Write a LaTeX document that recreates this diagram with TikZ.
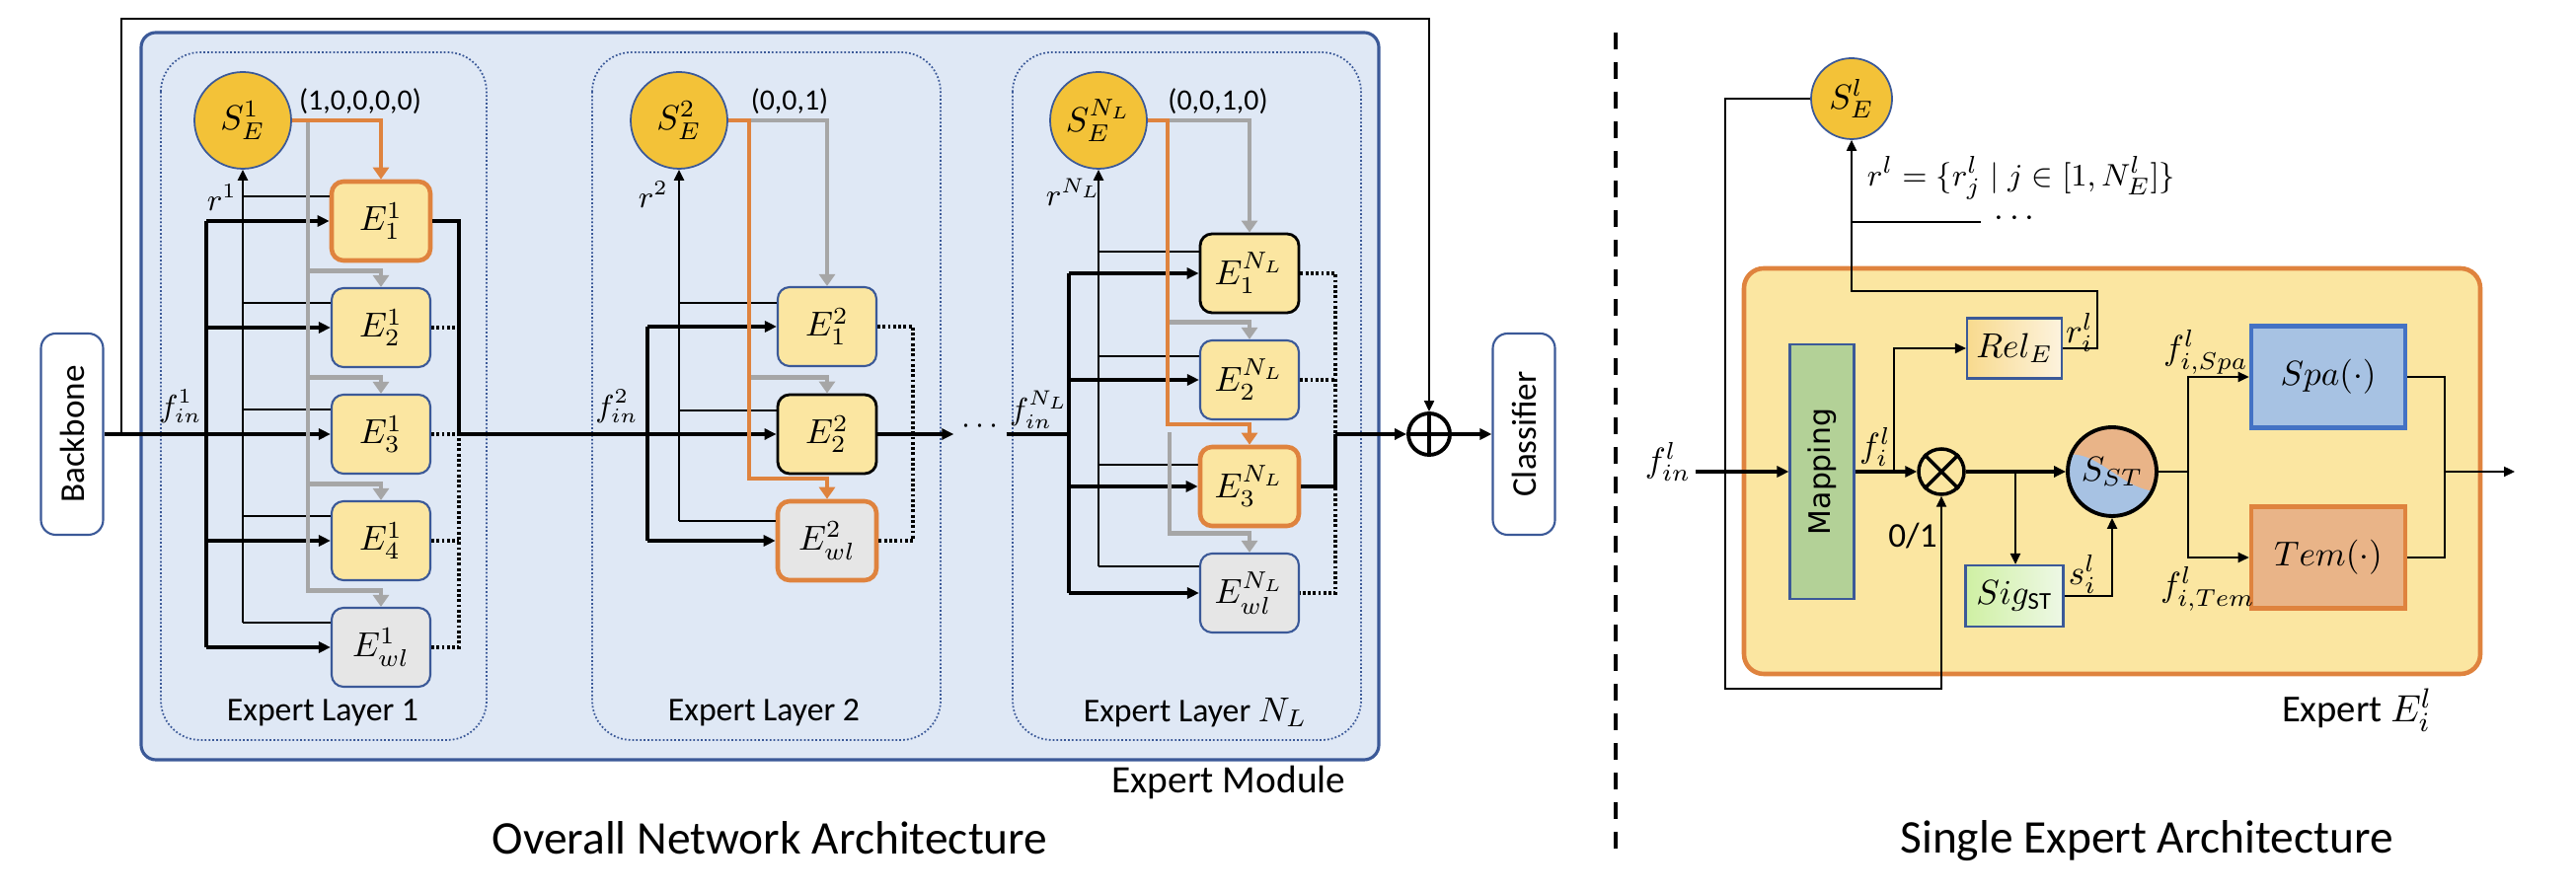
\documentclass[tikz,border=0pt]{standalone}
\usepackage{graphicx}
\usepackage{fontspec}
\setmainfont{Carlito}
\newfontfamily\mapfont{DejaVu Sans}
\usetikzlibrary{arrows.meta,positioning}

\definecolor{modfill}{RGB}{223,232,245}
\definecolor{modline}{RGB}{59,89,152}
\definecolor{gold}{RGB}{243,194,56}
\definecolor{expfill}{RGB}{251,230,161}
\definecolor{wlfill}{RGB}{230,230,230}
\definecolor{selorange}{RGB}{223,131,62}
\definecolor{routegray}{RGB}{166,166,166}
\definecolor{mapgreen}{RGB}{179,209,151}
\definecolor{spablue}{RGB}{167,194,227}
\definecolor{spaline}{RGB}{68,114,196}
\definecolor{temfill}{RGB}{233,180,136}
\definecolor{relL}{RGB}{248,218,142}
\definecolor{relR}{RGB}{253,243,222}
\definecolor{sigL}{RGB}{207,240,163}
\definecolor{sigR}{RGB}{238,248,230}

\tikzset{
  expert/.style={draw=modline, fill=expfill, rounded corners=1.2mm, line width=0.6pt,
    minimum width=10mm, minimum height=8mm, inner sep=0pt, font=\fontsize{10}{12}\selectfont},
  chosen/.style={draw=selorange, line width=1.3pt},
  blackline/.style={draw=black, line width=0.8pt},
  wl/.style={fill=wlfill},
  gate/.style={circle, draw=modline, fill=gold, minimum size=9.8mm, inner sep=0pt, line width=0.5pt,
    font=\fontsize{10}{12}\selectfont},
  laybox/.style={draw=modline, line width=0.5pt, dash pattern=on 0.5pt off 0.6pt, rounded corners=4mm},
  laylbl/.style={font=\fontsize{9.6}{11}\selectfont},
  io/.style={draw=modline, fill=white, rounded corners=1.5mm, line width=0.6pt,
    minimum width=6.3mm, minimum height=20.4mm, inner sep=0pt, font=\fontsize{10}{12}\selectfont},
  vec/.style={font=\fontsize{8.5}{10}\selectfont, inner sep=0pt},
  trunk/.style={line width=0.9pt},
  feed/.style={line width=0.9pt, -{Triangle[length=1.2mm,width=1.1mm]}},
  rline/.style={line width=0.6pt},
  rel/.style={line width=0.6pt, -{Triangle[length=1.1mm,width=1mm]}},
  idle/.style={line width=0.9pt, dash pattern=on 0.8pt off 0.7pt},
  grayroute/.style={draw=routegray, line width=1.4pt, -{Triangle[length=1.2mm,width=1.6mm]}},
  pick/.style={draw=selorange, line width=1.2pt, -{Triangle[length=1.2mm,width=1.6mm]}},
  title/.style={font=\fontsize{13.5}{16}\selectfont},
}

\begin{document}
\begin{tikzpicture}[x=0.1mm, y=-0.1mm, font=\fontsize{9}{11}\selectfont]
\useasboundingbox (0,0) rectangle (2610,904);

% expert module and its layers
\draw[draw=modline, fill=modfill, line width=0.9pt, rounded corners=1.5mm] (143,33) rectangle (1397,770);
\node[font=\fontsize{11.2}{13}\selectfont] (modlbl) at (1245,793) {Expert Module};
\draw[laybox] (163,53) rectangle (493,750);
\draw[laybox] (600,53) rectangle (953,750);
\draw[laybox] (1026,53) rectangle (1379,750);
\node[laylbl] (lay1) at (327,722) {Expert Layer 1};
\node[laylbl] (lay2) at (774,722) {Expert Layer 2};
\node[laylbl] (layn) at (1211,722) {Expert Layer $N_L$};

\node[io] (backbone) at (73,440) {\rotatebox{90}{Backbone}};
\node[io] (cls) at (1544,440) {\rotatebox{90}{Classifier}};
\node[circle, draw, line width=1.1pt, minimum size=4.2mm, inner sep=0pt] (plus) at (1448,440) {};
\draw[line width=1.1pt] (plus.north) -- (plus.south) (plus.west) -- (plus.east);

% layer 1
\node[gate] (g1) at (246,122) {$S^{1}_{E}$};
\node[expert, chosen] (e11) at (386,224) {$E^{1}_{1}$};
\node[expert] (e12) at (386,332) {$E^{1}_{2}$};
\node[expert] (e13) at (386,440) {$E^{1}_{3}$};
\node[expert] (e14) at (386,548) {$E^{1}_{4}$};
\node[expert, wl] (e1w) at (386,656) {$E^{1}_{wl}$};
\coordinate (in1) at (209,440);
\coordinate (t1) at (312,122);
\coordinate (c1) at (465,440);

\draw[feed] (backbone.east) -- (e13.west);
\draw[trunk] (in1 |- e11.west) -- (in1 |- e1w.west);
\draw[feed] (in1 |- e11.west) -- (e11.west);
\draw[feed] (in1 |- e12.west) -- (e12.west);
\draw[feed] (in1 |- e14.west) -- (e14.west);
\draw[feed] (in1 |- e1w.west) -- (e1w.west);

\draw[rline] (e11.west) ++(0,-25) coordinate (r11) -- (r11 -| g1);
\draw[rline] (e12.west) ++(0,-25) coordinate (r12) -- (r12 -| g1);
\draw[rline] (e13.west) ++(0,-25) coordinate (r13) -- (r13 -| g1);
\draw[rline] (e14.west) ++(0,-25) coordinate (r14) -- (r14 -| g1);
\draw[rline] (e1w.west) ++(0,-25) coordinate (r1w) -- (r1w -| g1);
\draw[rel] (r1w -| g1) -- (g1.south);

\draw[grayroute] (t1) |- ([yshift=1.6mm]e12.north) -- (e12.north);
\draw[grayroute] (t1) |- ([yshift=1.6mm]e13.north) -- (e13.north);
\draw[grayroute] (t1) |- ([yshift=1.6mm]e14.north) -- (e14.north);
\draw[grayroute] (t1) |- ([yshift=1.6mm]e1w.north) -- (e1w.north);
\draw[pick] (g1.east) -| (e11.north);

\draw[idle] (e12.east) -- (e12.east -| c1);
\draw[idle] (e13.east) -- (c1);
\draw[idle] (e14.east) -- (e14.east -| c1);
\draw[idle] (e1w.east) -| (c1);
\draw[trunk] (e11.east) -| (c1);

% layer 2
\node[gate] (g2) at (688,122) {$S^{2}_{E}$};
\node[expert] (e21) at (838,331) {$E^{2}_{1}$};
\node[expert, blackline] (e22) at (838,440) {$E^{2}_{2}$};
\node[expert, wl, chosen] (e2w) at (838,548) {$E^{2}_{wl}$};
\coordinate (in2) at (656,440);
\coordinate (t2) at (759,122);
\coordinate (c2) at (925,440);

\draw[feed] (c1) -- (e22.west);
\draw[trunk] (in2 |- e21.west) -- (in2 |- e2w.west);
\draw[feed] (in2 |- e21.west) -- (e21.west);
\draw[feed] (in2 |- e2w.west) -- (e2w.west);

\draw[rline] (e21.west) ++(0,-24) coordinate (r21) -- (r21 -| g2);
\draw[rline] (e22.west) ++(0,-24) coordinate (r22) -- (r22 -| g2);
\draw[rline] (e2w.west) ++(0,-20) coordinate (r2w) -- (r2w -| g2);
\draw[rel] (r2w -| g2) -- (g2.south);

\draw[grayroute] (t2) -| (e21.north);
\draw[grayroute] (t2) |- ([yshift=1.6mm]e22.north) -- (e22.north);
\draw[pick] (g2.east) -- (t2) |- ([yshift=2.1mm]e2w.north) -- (e2w.north);

\draw[idle] (e21.east) -| (c2 |- e2w.east) -- (e2w.east);
\node[inner xsep=0.7mm, inner ysep=0pt] (more) at (993,432) {$\cdots$};
\draw[feed] (e22.east) -- (e22.east -| more.west);

% layer N_L
\node[gate] (gn) at (1113,122) {$S^{N_L}_{E}$};
\node[expert, blackline] (en1) at (1266,277) {$E^{N_L}_{1}$};
\node[expert] (en2) at (1266,385) {$E^{N_L}_{2}$};
\node[expert, chosen] (en3) at (1266,493) {$E^{N_L}_{3}$};
\node[expert, wl] (enw) at (1266,601) {$E^{N_L}_{wl}$};
\coordinate (inN) at (1083,440);
\coordinate (tn) at (1183,122);
\coordinate (tn2) at (1185,438);
\coordinate (cn) at (1353,440);

\draw[trunk] (e22.east -| more.east) -- (inN);
\draw[trunk] (inN |- en1.west) -- (inN |- enw.west);
\draw[feed] (inN |- en1.west) -- (en1.west);
\draw[feed] (inN |- en2.west) -- (en2.west);
\draw[feed] (inN |- en3.west) -- (en3.west);
\draw[feed] (inN |- enw.west) -- (enw.west);

\draw[rline] (en1.west) ++(0,-22) coordinate (rn1) -- (rn1 -| gn);
\draw[rline] (en2.west) ++(0,-24) coordinate (rn2) -- (rn2 -| gn);
\draw[rline] (en3.west) ++(0,-22) coordinate (rn3) -- (rn3 -| gn);
\draw[rline] (enw.west) ++(0,-27) coordinate (rnw) -- (rnw -| gn);
\draw[rel] (rnw -| gn) -- (gn.south);

\draw[grayroute] (tn) -| (en1.north);
\draw[grayroute] (tn) |- ([yshift=1.7mm]en2.north) -- (en2.north);
\draw[grayroute] (tn2) |- ([yshift=1.9mm]enw.north) -- (enw.north);
\draw[pick] (gn.east) -- (tn) |- ([yshift=2.1mm]en3.north) -- (en3.north);

\draw[idle] (en1.east) -| (cn |- enw.east) -- (enw.east);
\draw[idle] (en2.east) -- (en2.east -| cn);
\draw[trunk] (en3.east) -| (cn);
\draw[feed] (cn) -- (plus.west);
\draw[feed] (plus.east) -- (cls.west);
\coordinate (skip) at (123,19);
\draw[rel] (backbone.east -| skip) -- (skip) -| (plus.north);

% labels
\node[vec] (v1) at (365,103) {(1,0,0,0,0)};
\node[vec] (v2) at (800,103) {(0,0,1)};
\node[vec] (vn) at (1234,103) {(0,0,1,0)};
\node (r1lbl) at (225,200) {$r^{1}$};
\node (r2lbl) at (662,197) {$r^{2}$};
\node (rnlbl) at (1088,195) {$r^{N_L}$};
\node (f1lbl) at (183,412) {$f^{1}_{in}$};
\node (f2lbl) at (625,412) {$f^{2}_{in}$};
\node (fnlbl) at (1053,415) {$f^{N_L}_{in}$};
\node[title] (ttl1) at (780,849) {Overall Network Architecture};

% separator
\draw[line width=1.4pt, dash pattern=on 1.7mm off 1.3mm] (1637,33) -- (1637,870);

% single expert
\begin{scope}[font=\fontsize{10}{12}\selectfont]
\node[gate, minimum size=8.2mm] (gl) at (1876,100) {$S^{l}_{E}$};
\draw[draw=selorange, fill=expfill, line width=1.3pt, rounded corners=2mm] (1767,272) rectangle (2513,683);
\node[draw=modline, fill=mapgreen, line width=0.6pt, minimum width=6.5mm, minimum height=25.8mm, inner sep=0pt] (map) at (1846,478) {\rotatebox{90}{\mapfont\fontsize{8.5}{10}\selectfont Mapping}};
\node[circle, draw, line width=1pt, minimum size=4.6mm, inner sep=0pt] (mul) at (1967,478) {};
\draw[line width=1pt] (mul.north east) -- (mul.south west) (mul.north west) -- (mul.south east);
\node[draw=modline, left color=relL, right color=relR, line width=0.6pt, minimum width=9.6mm, minimum height=6.1mm, inner sep=0pt] (relE) at (2041,353) {$Rel_E$};
\node[draw=modline, left color=sigL, right color=sigR, line width=0.6pt, minimum width=9.9mm, minimum height=6.2mm, inner sep=0pt] (sig) at (2041,604) {$Sig_{\mathrm{ST}}$};
\fill[temfill] (2140,478) circle [radius=4.5mm];
\begin{scope}
\clip (2140,478) circle [radius=4.5mm];
\fill[spablue] (2090,462) .. controls (2125,452) and (2150,500) .. (2190,498) -- (2190,530) -- (2090,530) -- cycle;
\end{scope}
\node[circle, draw, line width=1.1pt, minimum size=9mm, inner sep=0pt] (sst) at (2140,478) {$S_{ST}$};
\node[draw=spaline, fill=spablue, line width=1.3pt, minimum width=15.6mm, minimum height=10.3mm] (spa) at (2359,382) {$Spa(\cdot)$};
\node[draw=selorange, fill=temfill, line width=1.3pt, minimum width=15.6mm, minimum height=10.3mm] (tem) at (2359,565) {$Tem(\cdot)$};

\coordinate (finl) at (1718,478);
\coordinate (fbr) at (1919,478);
\coordinate (rtop) at (2125,295);
\coordinate (rdots) at (2007,225);
\coordinate (loop) at (1748,698);
\coordinate (sbr) at (2042,478);
\coordinate (sp) at (2217,478);
\coordinate (jn) at (2477,478);
\coordinate (endr) at (2548,478);

\draw[feed] (finl) -- (map.west);
\draw[feed] (map.east) -- (mul.west);
\draw[rel] (fbr) |- (relE.west);
\draw[rel] (relE.east) -| (rtop) -| (gl.south);
\draw[rline] (rdots -| gl.south) -- (rdots);
\draw[rel] (gl.west) -| (loop) -| (mul.south);
\draw[feed] (mul.east) -- (sst.west);
\draw[rel] (sbr) -- (sbr |- sig.north);
\draw[rel] (sig.east) -| (sst.south);
\draw[rline] (sst.east) -- (sp);
\draw[rel] (sp) |- (spa.west);
\draw[rel] (sp) |- (tem.west);
\draw[rline] (spa.east) -| (jn);
\draw[rline] (tem.east) -| (jn);
\draw[rel] (jn) -- (endr);

\node[font=\fontsize{9.5}{11}\selectfont] (rset) at (2048,180) {$r^{l} = \{r^{l}_{j} \mid j \in [1, N^{l}_{E}]\}$};
\node (ldots) at (2041,222) {$\cdots$};
\node (finlbl) at (1690,468) {$f^{l}_{in}$};
\node (filbl) at (1900,453) {$f^{l}_{i}$};
\node (rilbl) at (2107,337) {$r^{l}_{i}$};
\node (silbl) at (2110,582) {$s^{l}_{i}$};
\node (gatelbl) at (1938,543) {0/1};
\node (fspa) at (2235,357) {$f^{l}_{i,Spa}$};
\node (ftem) at (2237,597) {$f^{l}_{i,Tem}$};
\node[font=\fontsize{11}{13}\selectfont] (explbl) at (2388,720) {Expert $E^{l}_{i}$};
\end{scope}
\node[title] (ttl2) at (2175,852) {Single Expert Architecture};
\end{tikzpicture}
\end{document}
